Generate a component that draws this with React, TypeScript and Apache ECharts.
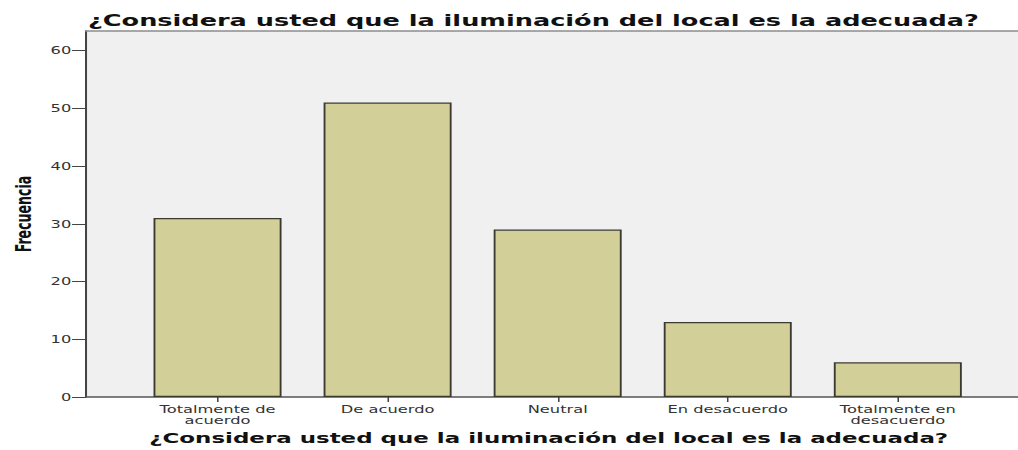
import React, { useEffect, useRef } from "react";
import * as echarts from "echarts";

const categories = [
  "Totalmente de\nacuerdo",
  "De acuerdo",
  "Neutral",
  "En desacuerdo",
  "Totalmente en\ndesacuerdo",
];
const frequencies = [31, 51, 29, 13, 6];
const yTicks = [0, 10, 20, 30, 40, 50, 60];
const titleText = "¿Considera usted que la iluminación del local es la adecuada?";
const yName = "Frecuencia";

const K = 1.55; // horizontal stretch of the reference
const W = 1018 / K;
const H = 450;

export default function App() {
  const ref = useRef<HTMLDivElement>(null);
  useEffect(() => {
    if (!ref.current) return;
    const chart = echarts.init(ref.current, undefined, { renderer: "svg" });
    const font = "DejaVu Sans";
    const yMax = 63.4;
    chart.setOption({
      animation: false,
      backgroundColor: "#ffffff",
      title: {
        text: titleText,
        left: 88 / K,
        top: 12,
        padding: 0,
        textStyle: { fontFamily: font, fontSize: 16.5, fontWeight: "bold", color: "#111" },
      },
      grid: [
        {
          left: 86 / K,
          right: 0,
          top: 31,
          height: 366,
          show: true,
          backgroundColor: "#f0f0f0",
          borderWidth: 0,
          containLabel: false,
          outerBoundsMode: "none",
        },
        {
          left: 132.5 / K,
          right: (1018 - 982.5) / K,
          top: 31,
          height: 366,
          containLabel: false,
          outerBoundsMode: "none",
        },
      ],
      xAxis: [
        {
          gridIndex: 0,
          type: "value",
          min: 0,
          max: 1,
          position: "bottom",
          axisLine: { show: true, lineStyle: { color: "#555", width: 1.5 } },
          axisTick: { show: false },
          axisLabel: { show: false },
          splitLine: { show: false },
        },
        {
          gridIndex: 0,
          type: "value",
          min: 0,
          max: 1,
          position: "top",
          axisLine: { show: true, lineStyle: { color: "#8c8c8c", width: 1.5 } },
          axisTick: { show: false },
          axisLabel: { show: false },
          splitLine: { show: false },
        },
        {
          gridIndex: 1,
          type: "category",
          data: categories,
          axisLine: { show: false },
          axisTick: { show: true, alignWithLabel: true, length: 5, lineStyle: { color: "#444", width: 1 } },
          axisLabel: {
            margin: 7,
            fontFamily: font,
            fontSize: 10.5,
            lineHeight: 11,
            color: "#333",
            interval: 0,
          },
          name: titleText,
          nameLocation: "middle",
          nameGap: 33,
          nameTextStyle: {
            fontFamily: font,
            fontSize: 14.8,
            fontWeight: "bold",
            color: "#111",
            padding: [0, 11.6, 0, 0],
          },
          splitLine: { show: false },
        },
      ],
      yAxis: [
        {
          gridIndex: 0,
          type: "value",
          min: 0,
          max: yMax,
          interval: 10,
          axisLine: { show: true, lineStyle: { color: "#444", width: 1.3 } },
          axisTick: { show: true, length: 9, customValues: yTicks, lineStyle: { color: "#444", width: 1 } },
          axisLabel: {
            margin: 9.5,
            fontFamily: font,
            fontSize: 10.5,
            color: "#333",
            customValues: yTicks,
          },
          splitLine: { show: false },
          name: yName,
          nameLocation: "middle",
          nameRotate: 90,
          nameGap: 32,
          nameTextStyle: {
            fontFamily: "'Liberation Sans Narrow', 'DejaVu Sans Condensed', 'DejaVu Sans'",
            fontSize: 14,
            fontWeight: "bold",
            color: "#111",
          },
        },
        {
          gridIndex: 1,
          type: "value",
          min: 0,
          max: yMax,
          interval: 10,
          show: false,
          splitLine: { show: false },
        },
      ],
      series: [
        {
          type: "bar",
          xAxisIndex: 2,
          yAxisIndex: 1,
          data: frequencies,
          barWidth: 128 / K,
          itemStyle: { color: "#d3cf99", borderColor: "#3b3a30", borderWidth: 1.2 },
          z: 3,
        },
      ],
    });
    return () => chart.dispose();
  }, []);
  return (
    <div
      style={{
        position: "absolute",
        left: 0,
        top: 0,
        width: W,
        height: H,
        transform: `scaleX(${K})`,
        transformOrigin: "0 0",
      }}
    >
      <div ref={ref} style={{ width: W, height: H }} />
    </div>
  );
}
